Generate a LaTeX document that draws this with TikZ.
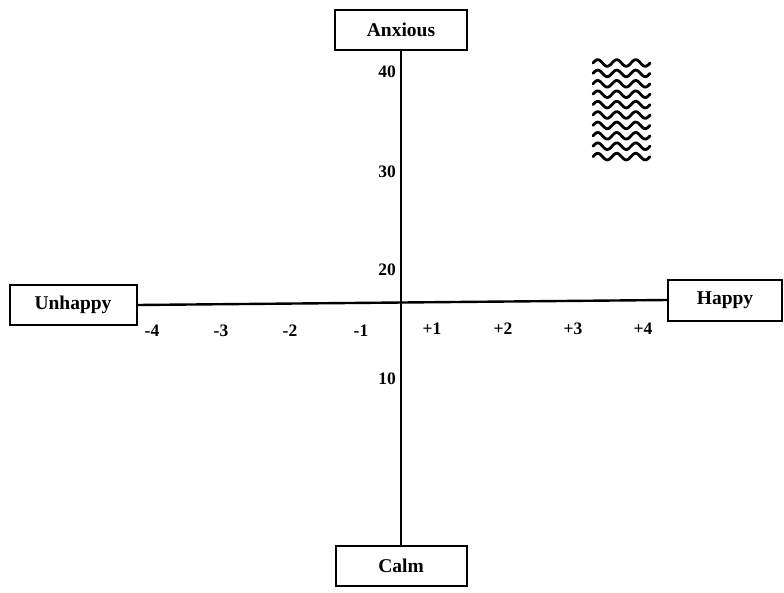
\documentclass[tikz,border=0pt]{standalone}
\usepackage{fontspec}
\setmainfont{Liberation Serif}
\tikzset{
  lbl/.style={draw, line width=2pt, rectangle, inner sep=0pt, font=\bfseries\fontsize{19.5}{19.5}\selectfont},
  axis/.style={line width=2.4pt},
  tick/.style={font=\bfseries\fontsize{17.5}{17.5}\selectfont, inner sep=0pt},
  wave/.style={line width=2.8pt, line cap=round}
}
\begin{document}
\begin{tikzpicture}[x=1pt,y=-1pt]
\useasboundingbox (0,0) rectangle (784,592);
\node[lbl, minimum width=132pt, minimum height=40pt] (anx) at (401,30) {Anxious};
\node[lbl, minimum width=131pt, minimum height=40pt] (calm) at (401,566) {Calm};
\node[lbl, minimum width=127pt, minimum height=40pt] (unh) at (73,305) {Unhappy};
\node[lbl, minimum width=114pt, minimum height=41pt] (hap) at (725,300) {Happy};
\coordinate (vt) at (401,50);
\coordinate (vb) at (401,546);
\draw[axis] (anx.south -| vt) -- (calm.north -| vt);
\draw[axis] (unh.east) -- (hap.west);
% horizontal tick labels
\node[tick] (m4) at (152,331) {-4};
\node[tick] (m3) at (221,331) {-3};
\node[tick] (m2) at (290,331) {-2};
\node[tick] (m1) at (361,331) {-1};
\node[tick] (p1) at (432,329) {+1};
\node[tick] (p2) at (503,329) {+2};
\node[tick] (p3) at (573,329) {+3};
\node[tick] (p4) at (643,329) {+4};
% vertical labels
\node[tick, anchor=east] (v40) at (396,72) {40};
\node[tick, anchor=east] (v30) at (396,172) {30};
\node[tick, anchor=east] (v20) at (396,270) {20};
\node[tick, anchor=east] (v10) at (396,379) {10};
% wavy pattern
\foreach \r in {0,...,9}{
  \draw[wave] plot[domain=0:57, samples=60, smooth] ({593+\x}, {63+\r*10.4 + 3.3*sin(\x*18.95 + 180)});
}
\end{tikzpicture}
\end{document}
